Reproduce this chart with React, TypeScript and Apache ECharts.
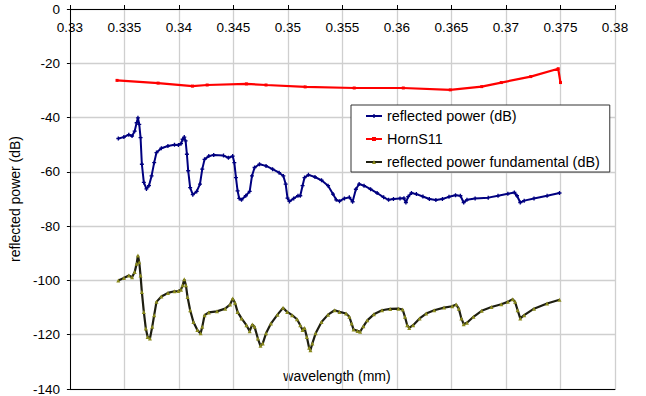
import React, { useEffect, useRef } from "react";
import * as echarts from "echarts";

// wavelength (mm) and dB values
const blueX = [0.33444,0.33495,0.3354,0.3357,0.33594,0.33612,0.33624,0.33636,0.33648,0.3366,0.33678,0.33702,0.33725,0.33749,0.33773,0.33794,0.33839,0.33899,0.33959,0.33995,0.34019,0.34034,0.34049,0.34061,0.34073,0.34085,0.34103,0.34127,0.34163,0.34193,0.34214,0.34235,0.34274,0.34319,0.34409,0.34454,0.34493,0.34508,0.34523,0.34538,0.34553,0.34574,0.34613,0.34649,0.3467,0.34694,0.34739,0.34799,0.34859,0.34919,0.34958,0.34979,0.34996,0.35014,0.35053,0.35092,0.35113,0.35134,0.35152,0.35188,0.35248,0.35308,0.35368,0.35413,0.35443,0.35473,0.35518,0.35563,0.35593,0.35623,0.35653,0.35698,0.35758,0.35818,0.35878,0.35923,0.35968,0.36028,0.36064,0.36082,0.36103,0.36133,0.36178,0.36238,0.36297,0.36357,0.36417,0.36477,0.36537,0.36582,0.36612,0.36642,0.36717,0.36837,0.36927,0.37017,0.37077,0.37101,0.37131,0.37167,0.37257,0.37377,0.37491];
const blueY = [-47.7,-47.2,-46.3,-46.8,-45.0,-41.9,-40.1,-42.5,-47.4,-57.2,-63.9,-66.3,-65.1,-61.5,-56.6,-52.9,-51.3,-50.5,-50.0,-50.1,-49.6,-48.0,-47.2,-48.6,-53.5,-59.6,-65.8,-68.4,-67.2,-64.5,-59.0,-55.4,-54.2,-53.8,-54.0,-54.8,-54.2,-56.6,-62.1,-67.0,-69.8,-70.3,-68.8,-67.2,-61.5,-58.4,-57.2,-57.8,-59.0,-60.3,-61.5,-64.5,-69.7,-70.9,-69.8,-68.8,-68.8,-65.1,-62.1,-61.1,-61.9,-63.1,-65.1,-68.2,-70.3,-70.8,-69.8,-69.4,-71.0,-66.4,-64.5,-65.1,-66.4,-67.8,-69.4,-70.3,-70.0,-69.8,-69.7,-71.3,-69.1,-67.8,-68.2,-69.1,-70.0,-70.4,-70.0,-69.2,-68.6,-68.8,-71.3,-70.3,-69.8,-69.5,-68.8,-68.1,-67.6,-68.8,-71.3,-70.6,-69.8,-68.8,-67.8];

const redX = [0.33432,0.33809,0.34124,0.34259,0.34619,0.34799,0.35158,0.35608,0.36058,0.36489,0.36777,0.36957,0.37227,0.37479,0.375];
const redY = [-26.3,-27.3,-28.4,-28.0,-27.6,-28.0,-28.7,-29.1,-29.1,-29.8,-28.6,-27.1,-24.9,-22.0,-27.1];

const blackX = [0.33444,0.33495,0.3354,0.3357,0.33594,0.33612,0.33624,0.33636,0.33648,0.3366,0.33678,0.33696,0.33713,0.33734,0.33755,0.33773,0.33794,0.33839,0.33899,0.33959,0.33995,0.34019,0.34034,0.34049,0.34064,0.34079,0.34103,0.34133,0.34169,0.34199,0.34214,0.34235,0.34274,0.34349,0.34424,0.34469,0.34493,0.34514,0.34538,0.34574,0.34619,0.34649,0.34673,0.34694,0.34724,0.34748,0.34769,0.34799,0.34844,0.34904,0.34955,0.34993,0.35038,0.35083,0.35113,0.35134,0.35152,0.35173,0.35194,0.35206,0.35224,0.35254,0.35308,0.35368,0.35428,0.35473,0.35533,0.35563,0.35584,0.35602,0.35638,0.35662,0.35692,0.35728,0.35788,0.35863,0.35938,0.36013,0.36052,0.36073,0.36094,0.36112,0.36148,0.36208,0.36268,0.36342,0.36432,0.36507,0.36543,0.36567,0.36591,0.36612,0.36642,0.36702,0.36777,0.36867,0.36957,0.37017,0.37062,0.37083,0.37107,0.37131,0.37167,0.37257,0.37377,0.37491];
const blackY = [-100.0,-99.1,-98.2,-98.8,-96.9,-93.9,-90.8,-93.3,-98.2,-104.3,-111.6,-117.7,-120.8,-121.4,-117.1,-112.8,-107.9,-105.9,-104.6,-104.0,-103.9,-103.4,-101.8,-99.6,-101.8,-106.1,-111.0,-115.3,-118.3,-119.5,-117.1,-112.8,-111.8,-111.4,-110.4,-108.9,-106.7,-108.2,-111.6,-114.0,-116.5,-118.7,-116.2,-117.1,-121.4,-124.1,-123.2,-119.5,-115.9,-112.6,-110.1,-111.6,-112.8,-114.3,-116.5,-118.3,-117.5,-120.8,-124.8,-125.7,-123.2,-119.5,-115.3,-112.6,-111.0,-111.6,-112.2,-113.4,-115.9,-118.1,-118.6,-118.9,-116.9,-114.7,-112.5,-111.0,-110.5,-110.4,-110.7,-113.4,-116.5,-117.5,-116.5,-114.0,-112.2,-111.0,-110.0,-109.5,-108.9,-110.4,-114.0,-116.1,-115.6,-113.4,-111.2,-109.8,-108.8,-107.9,-106.9,-107.9,-111.0,-114.0,-112.8,-110.4,-108.5,-107.1];

const seriesNames = ["reflected power (dB)", "HornS11", "reflected power fundamental (dB)"];
const xName = "wavelength (mm)";
const yName = "reflected power (dB)";

const FONT = "'Liberation Sans', Arial, sans-serif";
const pairs = (xs: number[], ys: number[]) => xs.map((x, i) => [x, ys[i]]);
const PLUS = "path://M2,0h2v2h2v2h-2v2h-2v-2h-2v-2h2z";

export default function App() {
  const ref = useRef<HTMLDivElement>(null);
  useEffect(() => {
    const chart = echarts.init(ref.current!, null, { renderer: "svg" });
    chart.setOption({
      animation: false,
      backgroundColor: "#ffffff",
      grid: { left: 59, right: 31, top: 9, bottom: 6 },
      legend: {
        orient: "vertical",
        left: 351,
        top: 105,
        data: seriesNames,
        backgroundColor: "#ffffff",
        borderColor: "#333333",
        borderWidth: 1,
        padding: [3, 10, 2, 14],
        itemWidth: 16,
        itemHeight: 5,
        itemGap: 7,
        textStyle: { fontFamily: FONT, fontSize: 14.4, color: "#000", lineHeight: 16 },
      },
      xAxis: [
        {
          type: "value",
          position: "top",
          min: 0.33,
          max: 0.38,
          interval: 0.005,
          axisLine: { show: true, onZero: false, lineStyle: { color: "#000", width: 1 } },
          axisTick: { show: true, length: 4, lineStyle: { color: "#000" } },
          axisLabel: {
            inside: true,
            margin: 11,
            fontFamily: FONT,
            fontSize: 13.5,
            color: "#000",
            formatter: (v: number) => String(+v.toFixed(3)),
          },
          splitLine: { show: true, lineStyle: { color: "#cfcfcf", width: 1.3 } },
        },
        {
          type: "value",
          position: "bottom",
          min: 0.33,
          max: 0.38,
          interval: 0.005,
          axisLine: { show: true, onZero: false, lineStyle: { color: "#000", width: 1 } },
          axisTick: { show: false },
          axisLabel: { show: false },
          splitLine: { show: false },
        },
      ],
      yAxis: {
        type: "value",
        min: -140,
        max: 0,
        interval: 20,
        name: yName,
        nameLocation: "middle",
        nameGap: 41,
        nameTextStyle: { fontFamily: FONT, fontSize: 14, color: "#000" },
        axisLine: { show: true, onZero: false, lineStyle: { color: "#000", width: 1 } },
        axisTick: { show: true, length: 3, lineStyle: { color: "#000" } },
        axisLabel: { margin: 10, fontFamily: FONT, fontSize: 13.5, color: "#000" },
        splitLine: { show: true, lineStyle: { color: "#cfcfcf", width: 1.3 } },
      },
      graphic: [
        {
          type: "text",
          x: 337,
          y: 376,
          style: {
            text: xName,
            fontFamily: FONT,
            fontSize: 14,
            fill: "#000",
            textAlign: "center",
            textVerticalAlign: "middle",
          },
        },
      ],
      series: [
        {
          name: seriesNames[0],
          type: "line",
          data: pairs(blueX, blueY),
          symbol: PLUS,
          symbolSize: 4,
          lineStyle: { color: "#000080", width: 2 },
          itemStyle: { color: "#000080" },
        },
        {
          name: seriesNames[1],
          type: "line",
          data: pairs(redX, redY),
          symbol: "rect",
          symbolSize: 3,
          lineStyle: { color: "#ff0000", width: 2.2 },
          itemStyle: { color: "#ff0000" },
        },
        {
          name: seriesNames[2],
          type: "line",
          data: pairs(blackX, blackY),
          symbol: "triangle",
          symbolSize: 4,
          lineStyle: { color: "#1e1e10", width: 2.2 },
          itemStyle: { color: "#8a8a1c" },
        },
      ],
    });
    return () => chart.dispose();
  }, []);
  return (
    <div
      ref={ref}
      style={{ position: "fixed", left: 0, top: 0, width: 646, height: 396 }}
    />
  );
}
